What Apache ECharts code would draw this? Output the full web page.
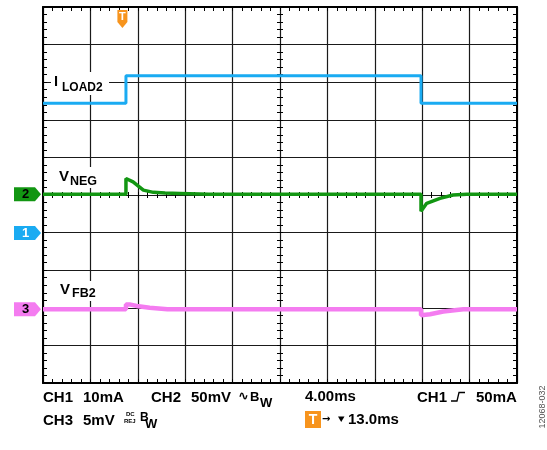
<!DOCTYPE html>
<html lang="en">
<head>
  <meta charset="UTF-8">
  <title>ILOAD2 / VNEG / VFB2 transient</title>
  <script src="https://cdn.jsdelivr.net/npm/echarts@6/dist/echarts.min.js"></script>
  <style>
    html, body { margin: 0; padding: 0; background: #fff; }
    #scope { width: 547px; height: 450px; }
  </style>
</head>
<body>
<div id="scope"></div>
<script>
  // time in ms (4 ms/div, 10 div), levels in screen divisions (0 = bottom, 10 = top)
  var iLoadT   = [0, 7.0, 7.0, 31.9, 31.9, 40];
  var iLoadDiv = [7.44, 7.44, 8.17, 8.17, 7.44, 7.44];

  var vNegT   = [0, 7.0, 7.0, 7.15, 7.6, 8.47, 9.31, 10.3, 11.56, 14, 31.9, 31.9, 32.38, 33.5, 34.6, 35.75, 40];
  var vNegDiv = [5.02, 5.02, 5.44, 5.43, 5.35, 5.13, 5.07, 5.05, 5.04, 5.02, 5.02, 4.57, 4.78, 4.91, 5.0, 5.02, 5.02];

  var vFbT   = [0, 7.0, 7.0, 7.3, 7.9, 9.0, 10.5, 31.9, 31.9, 32.66, 33.78, 35.47, 40];
  var vFbDiv = [1.96, 1.96, 2.09, 2.09, 2.05, 2.0, 1.96, 1.96, 1.8, 1.83, 1.9, 1.96, 1.96];

  // channel ground markers and trigger position
  var chNames  = ['1', '2', '3'];
  var chLevels = [3.99, 5.02, 1.96];
  var chColors = ['#1aabf2', '#129612', '#f47cf0'];
  var chText   = ['#fff', '#000', '#000'];
  var triggerMs = 6.7;

  function zip(xs, ys) {
    var out = [];
    for (var i = 0; i < xs.length; i++) out.push([xs[i], ys[i]]);
    return out;
  }

  var myChart = echarts.init(document.getElementById('scope'));

  // one axis of the graticule frame / centre cross
  function gAxis(isX, pos, offset, lineShow, split, len) {
    return {
      type: 'value', position: pos, offset: offset,
      min: 0, max: isX ? 40 : 10, interval: isX ? 4 : 1,
      axisLine: {show: lineShow, onZero: false, lineStyle: {color: '#000', width: 2}},
      axisTick: {show: true, inside: true, length: len, lineStyle: {color: '#000', width: 1}},
      minorTick: {show: true, splitNumber: 5, length: len, lineStyle: {color: '#000', width: 1}},
      splitLine: {show: split, lineStyle: {color: '#1a1a1a', width: 1.2}},
      axisLabel: {show: false}
    };
  }

  var option = {
    animation: false,
    grid: {left: 43, top: 7, right: 30, bottom: 67, containLabel: false},
    xAxis: [
      gAxis(true, 'bottom', 0, true, true, 4),
      gAxis(true, 'top', 0, true, false, 4),
      gAxis(true, 'bottom', -188, false, false, 3),
      gAxis(true, 'top', -188, false, false, 3)
    ],
    yAxis: [
      gAxis(false, 'left', 0, true, true, 4),
      gAxis(false, 'right', 0, true, false, 4),
      gAxis(false, 'left', -237, false, false, 3),
      gAxis(false, 'right', -237, false, false, 3)
    ],
    series: [
      {
        name: 'ILOAD2', type: 'line', showSymbol: false, z: 3,
        lineStyle: {color: chColors[0], width: 3},
        data: zip(iLoadT, iLoadDiv)
      },
      {
        name: 'VNEG', type: 'line', showSymbol: false, z: 3,
        lineStyle: {color: chColors[1], width: 3.5},
        data: zip(vNegT, vNegDiv)
      },
      {
        name: 'VFB2', type: 'line', showSymbol: false, z: 3,
        lineStyle: {color: chColors[2], width: 4.5},
        data: zip(vFbT, vFbDiv)
      }
    ]
  };
  myChart.setOption(option);

  // annotations placed with the chart's own scales
  var FONT = '"Liberation Sans", Arial, sans-serif';
  function txt(x, y, s, size, extra) {
    var st = {text: s, x: 0, y: 0, fill: '#000', font: 'bold ' + size + 'px ' + FONT,
      align: 'left', verticalAlign: 'middle'};
    for (var k in extra) st[k] = extra[k];
    return {type: 'text', x: x, y: y, z: 20, style: st};
  }

  var g = [];
  for (var i = 0; i < chNames.length; i++) {
    var py = myChart.convertToPixel({yAxisIndex: 0}, chLevels[i]);
    g.push({
      type: 'polygon', z: 20,
      shape: {points: [[14, py - 7], [35, py - 7], [41, py], [35, py + 7], [14, py + 7]]},
      style: {fill: chColors[i]}
    });
    g.push(txt(22, py + 0.5, chNames[i], 13, {fill: chText[i]}));
  }

  var tx = myChart.convertToPixel({xAxisIndex: 0}, triggerMs);
  g.push({
    type: 'polygon', z: 20,
    shape: {points: [[tx - 5, 10], [tx + 5, 10], [tx + 5, 22], [tx, 28], [tx - 5, 22]]},
    style: {fill: '#f7941d'}
  });
  g.push(txt(tx, 16.5, 'T', 11, {fill: '#fff', align: 'center'}));

  // trace labels on white patches
  g.push({type: 'rect', z: 15, shape: {x: 51, y: 72, width: 58, height: 23}, style: {fill: '#fff'}});
  g.push(txt(54, 81.5, 'I', 14.5));
  g.push(txt(62, 87.5, 'LOAD2', 12));
  g.push({type: 'rect', z: 15, shape: {x: 57, y: 167, width: 44, height: 21}, style: {fill: '#fff'}});
  g.push(txt(59, 176.5, 'V', 15));
  g.push(txt(70, 181.5, 'NEG', 12.5));
  g.push({type: 'rect', z: 15, shape: {x: 58, y: 281, width: 41, height: 20}, style: {fill: '#fff'}});
  g.push(txt(60, 290, 'V', 15));
  g.push(txt(72, 294, 'FB2', 12.5));

  // readout
  g.push(txt(43, 398, 'CH1', 15));
  g.push(txt(83, 398, '10mA', 15));
  g.push(txt(151, 398, 'CH2', 15));
  g.push(txt(191, 398, '50mV', 15));
  g.push(txt(238, 397, '\u223F', 13, {font: 'bold 13px "DejaVu Sans", sans-serif'}));
  g.push(txt(250, 397, 'B', 13));
  g.push(txt(260, 403, 'W', 13));
  g.push(txt(305, 397, '4.00ms', 15));
  g.push(txt(417, 398, 'CH1', 15));
  g.push({type: 'polyline', z: 20,
    shape: {points: [[451, 401], [457, 401], [459, 392.5], [465, 392.5]]},
    style: {stroke: '#000', lineWidth: 1.3, fill: null}});
  g.push(txt(476, 398, '50mA', 15));

  g.push(txt(43, 420.5, 'CH3', 15));
  g.push(txt(83, 420.5, '5mV', 15));
  g.push(txt(126, 414.5, 'DC', 6));
  g.push(txt(124, 421.5, 'REJ', 6));
  g.push(txt(140, 417.5, 'B', 12));
  g.push(txt(145, 424, 'W', 13));
  g.push({type: 'rect', z: 20, shape: {x: 305, y: 411, width: 16, height: 17}, style: {fill: '#f7941d'}});
  g.push(txt(313, 420, 'T', 14, {fill: '#fff', align: 'center'}));
  g.push(txt(322, 419.5, '\u2192', 10, {font: 'bold 10px "DejaVu Sans", sans-serif'}));
  g.push({type: 'polygon', z: 20, shape: {points: [[338, 416.5], [344.5, 416.5], [341.2, 422]]}, style: {fill: '#000'}});
  g.push(txt(348, 420, '13.0ms', 15));

  g.push({type: 'text', x: 543, y: 407, rotation: Math.PI / 2, z: 20,
    style: {text: '12068-032', x: 0, y: 0, fill: '#555', font: '9px ' + FONT,
      align: 'center', verticalAlign: 'middle'}});

  myChart.setOption({graphic: g});
</script>
</body>
</html>
